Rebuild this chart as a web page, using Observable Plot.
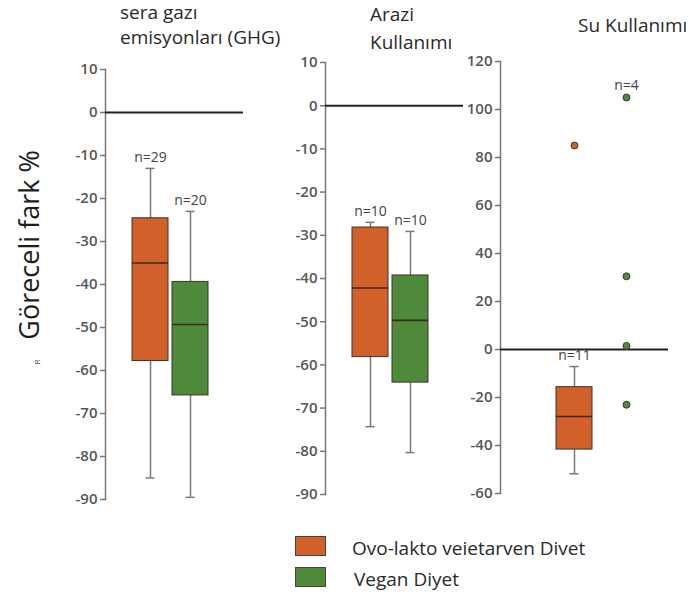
<!DOCTYPE html>
<html><head><meta charset="utf-8">
<script src="https://cdn.jsdelivr.net/npm/d3@7"></script>
<script src="https://cdn.jsdelivr.net/npm/@observablehq/plot@0.6"></script>
<style>
body{margin:0;background:#fff;font-family:"Open Sans",sans-serif;}
#wrap{position:relative;width:689px;height:595px;overflow:hidden;background:#fff}
.abs{position:absolute;white-space:nowrap;color:#2a2a2a}
</style></head><body><div id="wrap"></div>
<script>
// ---- data ----
const dietKeys = ["ovo", "vegan"];
const dietNames = ["Ovo-lakto veietarven Divet", "Vegan Diyet"];
const dietColors = ["#d2602a", "#4f8a3b"];
const panelTitles = [["sera gazı", "emisyonları (GHG)"], ["Arazi", "Kullanımı"], ["Su Kullanımı"]];
const yLabel = "Göreceli fark %";

const ghgBoxes = [
  {diet: "ovo",   n: 29, low: -85,   q1: -57.8, med: -35,   q3: -24.6, high: -13},
  {diet: "vegan", n: 20, low: -89.5, q1: -65.8, med: -49.3, q3: -39.4, high: -23}
];
const landBoxes = [
  {diet: "ovo",   n: 10, low: -74.3, q1: -58.2, med: -42.2, q3: -28.2, high: -27},
  {diet: "vegan", n: 10, low: -80.3, q1: -64.1, med: -49.7, q3: -39.3, high: -29.1}
];
const waterBoxes = [
  {diet: "ovo",   n: 11, low: -51.8, q1: -41.7, med: -27.9, q3: -15.7, high: -7.1}
];
const waterPoints = [
  {diet: "ovo",   value: 85},
  {diet: "vegan", value: 105},
  {diet: "vegan", value: 30.5},
  {diet: "vegan", value: 1.5},
  {diet: "vegan", value: -23}
];
const waterVeganN = 4;

const ghgTicks = [10, 0, -10, -20, -30, -40, -50, -60, -70, -80, -90];
const landTicks = [10, 0, -10, -20, -30, -40, -50, -60, -70, -80, -90];
const waterTicks = [120, 100, 80, 60, 40, 20, 0, -20, -40, -60];

const colorOf = d => dietColors[dietKeys.indexOf(d.diet)];

function panel({boxes, points = [], pointLabels = [], yDomain, ticks, left, width, plotW, mTop, mBottom, pi, po, align}) {
  const marks = [
    Plot.axisY({ticks, tickSize: 5, tickFormat: () => "", stroke: "#777", strokeWidth: 1.5}),
    Plot.text(ticks, {y: d => d, text: d => String(d), frameAnchor: "left", textAnchor: "end", dx: -8, fontSize: 15, fontWeight: 600, fill: "#575757"}),
    Plot.frame({anchor: "left", stroke: "#777", strokeWidth: 1.5}),
    Plot.ruleY([0], {stroke: "#222", strokeWidth: 2}),
    Plot.ruleX(boxes, {x: "diet", y1: "low", y2: "high", stroke: "#7a7a7a", strokeWidth: 1.5}),
    Plot.tickY(boxes, {x: "diet", y: "low", stroke: "#7a7a7a", strokeWidth: 1.5, insetLeft: 13.5, insetRight: 13.5}),
    Plot.tickY(boxes, {x: "diet", y: "high", stroke: "#7a7a7a", strokeWidth: 1.5, insetLeft: 13.5, insetRight: 13.5}),
    Plot.barY(boxes, {x: "diet", y1: "q1", y2: "q3", fill: colorOf, stroke: "#3b332c", strokeWidth: 1}),
    Plot.tickY(boxes, {x: "diet", y: "med", stroke: "#3a2a20", strokeWidth: 1.6}),
    Plot.dot(points, {x: "diet", y: "value", r: 3.5, fill: colorOf, stroke: "#3a3a2a", strokeWidth: 1}),
    Plot.text(boxes, {x: "diet", y: "high", text: d => "n=" + d.n, dy: -11, fontSize: 14, fill: "#444"}),
    Plot.text(pointLabels, {x: "diet", y: "value", text: d => "n=" + d.n, dy: -12, fontSize: 14, fill: "#444"})
  ];
  const svg = Plot.plot({
    width, height: 520,
    marginLeft: 105, marginRight: width - 105 - plotW,
    marginTop: mTop, marginBottom: mBottom,
    style: {background: "none", overflow: "visible", fontFamily: "'Open Sans', sans-serif", position: "absolute", left: left + "px", top: "0px", maxWidth: "none"},
    x: {domain: dietKeys, paddingInner: pi, paddingOuter: po, align, axis: null},
    y: {domain: yDomain, axis: null},
    marks
  });
  document.getElementById("wrap").appendChild(svg);
}

panel({boxes: ghgBoxes, yDomain: [-90, 10], ticks: ghgTicks, left: 0, width: 250, plotW: 138, mTop: 69, mBottom: 21, pi: 0.1, po: 0.775, align: 0.435});
panel({boxes: landBoxes, yDomain: [-90, 10], ticks: landTicks, left: 220, width: 250, plotW: 138, mTop: 62, mBottom: 26, pi: 0.1, po: 0.775, align: 0.435});
const veganPts = waterPoints.filter(d => d.diet === "vegan");
const topVegan = veganPts.reduce((a, b) => (b.value > a.value ? b : a));
panel({boxes: waterBoxes, points: waterPoints, pointLabels: [{diet: "vegan", value: topVegan.value, n: waterVeganN}],
  yDomain: [-60, 120], ticks: waterTicks, left: 395, width: 280, plotW: 168, mTop: 61, mBottom: 27, pi: 0.3077, po: 0.769, align: 0.7});

// ---- HTML text ----
const wrap = document.getElementById("wrap");
function addDiv(html, css) {
  const el = document.createElement("div");
  el.className = "abs";
  el.innerHTML = html;
  Object.assign(el.style, css);
  wrap.appendChild(el);
  return el;
}
addDiv(panelTitles[0].join("<br>"), {left: "120px", top: "0px", fontSize: "19px", lineHeight: "25px"});
addDiv(panelTitles[1].join("<br>"), {left: "370px", top: "0px", fontSize: "19px", lineHeight: "28px"});
addDiv(panelTitles[2].join("<br>"), {left: "578px", top: "13px", fontSize: "19px", lineHeight: "25px"});
addDiv(yLabel, {left: "29px", top: "245px", fontSize: "27px", lineHeight: "30px", color: "#1e1e1e", transform: "translate(-50%,-50%) rotate(-90deg)"});
addDiv("R", {left: "37px", top: "362px", fontSize: "8px", lineHeight: "8px", color: "#555", transform: "translate(-50%,-50%) rotate(-90deg)"});

// legend
const legTops = [536, 567];
dietNames.forEach((name, i) => {
  addDiv("", {left: "295px", top: legTops[i] + "px", width: "29px", height: "18px", background: dietColors[i], border: "1.5px solid #4a4038"});
  addDiv(name, {left: (352 + i * 2) + "px", top: (legTops[i] + 1) + "px", fontSize: "19px", lineHeight: "22px"});
});
</script></body></html>
